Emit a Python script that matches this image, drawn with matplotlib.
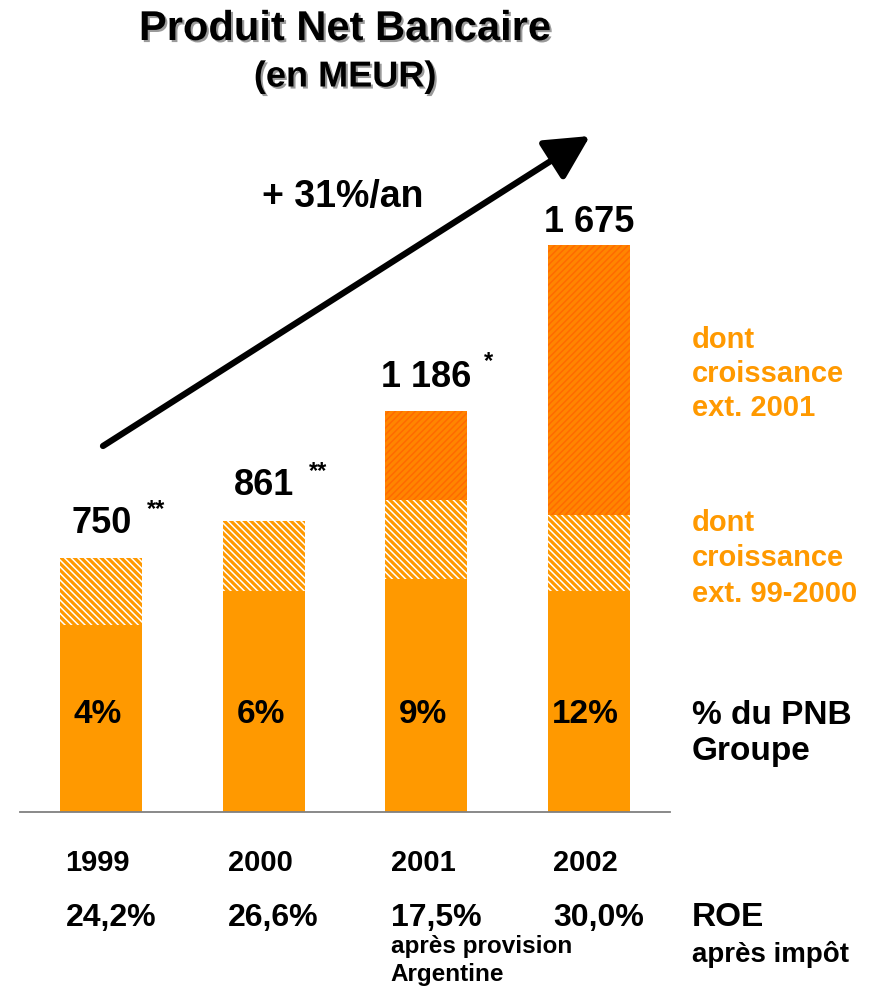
import matplotlib.pyplot as plt
import matplotlib.patheffects as pe
import matplotlib.transforms as mtransforms
from matplotlib.patches import FancyArrowPatch

plt.rcParams['font.family'] = ['Liberation Sans', 'DejaVu Sans']
plt.rcParams['font.weight'] = 'bold'
plt.rcParams['hatch.linewidth'] = 1.1

years = ['1999', '2000', '2001', '2002']
# PNB split: organic base, growth from 99-2000 acquisitions, growth from 2001 acquisitions
base = [552, 653, 688, 653]
ext_9900 = [198, 208, 233, 225]
ext_2001 = [0, 0, 265, 797]
totals = [750, 861, 1186, 1675]
total_labels = ['750', '861', '1 186', '1 675']
stars = ['**', '**', '*', '']
share_pnb = ['4%', '6%', '9%', '12%']
roe = ['24,2%', '26,6%', '17,5%', '30,0%']

ORANGE = '#FF9900'
DARK = '#FF6A00'

W, H = 874, 987
fig = plt.figure(figsize=(W / 100, H / 100), dpi=100)


def fx(x):
    return x / W


def fy(y):
    return 1 - y / H


# axes: x from px 20 to 670, baseline at px 813, 1675 -> 567 px
ymax = 2000
ax_h = ymax * 567 / 1675
ax = fig.add_axes([fx(20), fy(813), 650 / W, ax_h / H])
ax.set_xlim(-0.5, 3.5)
ax.set_ylim(0, ymax)
ax.axis('off')

xs = range(len(years))
bw = 0.504
ax.bar(xs, base, width=bw, color=ORANGE, linewidth=0)
ax.bar(xs, ext_9900, width=bw, bottom=base, color=ORANGE,
       edgecolor='white', hatch='\\\\\\\\\\', linewidth=0)
bottom2 = [b + e for b, e in zip(base, ext_9900)]
for i in xs:
    if ext_2001[i]:
        ax.bar(i, ext_2001[i], width=bw, bottom=bottom2[i], color='#FF8500',
               edgecolor=DARK, hatch='/////', linewidth=0)

ax.axhline(0, color='#808080', lw=1.3, clip_on=False)

# totals above bars
lab_off = [36, 36, 34, 24]
star_dx = [46, 45, 58, 0]
for i in xs:
    ax.annotate(total_labels[i], (i, totals[i]), xytext=(0, lab_off[i]),
                textcoords='offset pixels', ha='center', va='center',
                fontsize=26, fontweight='bold')
    if stars[i]:
        ax.annotate(stars[i], (i, totals[i]), xytext=(star_dx[i], 50),
                    textcoords='offset pixels', ha='left', va='center',
                    fontsize=17, fontweight='bold')

# share of group PNB inside bars
for i in xs:
    ax.text(i - 0.02, 290, share_pnb[i], ha='center', va='center',
            fontsize=24, fontweight='bold')

# years and ROE below axis
tr = mtransforms.blended_transform_factory(ax.transData, fig.transFigure)
for i in xs:
    ax.text(i - 0.22, fy(863), years[i], transform=tr, ha='left', va='center',
            fontsize=21, fontweight='bold')
    ax.text(i - 0.22, fy(918), roe[i], transform=tr, ha='left', va='center',
            fontsize=23, fontweight='bold')
ax.text(2 - 0.22, fy(947), 'après provision', transform=tr, ha='left',
        va='center', fontsize=17.5, fontweight='bold')
ax.text(2 - 0.22, fy(975), 'Argentine', transform=tr, ha='left',
        va='center', fontsize=17.5, fontweight='bold')

# right side annotations
for txt, y in [('dont', 340), ('croissance', 374), ('ext. 2001', 408),
               ('dont', 523), ('croissance', 558), ('ext. 99-2000', 594)]:
    fig.text(fx(692), fy(y), txt, color=ORANGE, ha='left', va='center',
             fontsize=21, fontweight='bold')
fig.text(fx(692), fy(715), '% du PNB', ha='left', va='center',
         fontsize=24, fontweight='bold')
fig.text(fx(692), fy(752), 'Groupe', ha='left', va='center',
         fontsize=24, fontweight='bold')
fig.text(fx(692), fy(918), 'ROE', ha='left', va='center',
         fontsize=24, fontweight='bold')
fig.text(fx(692), fy(955), 'après impôt', ha='left', va='center',
         fontsize=20, fontweight='bold')

# title
shadow = [pe.withSimplePatchShadow(offset=(1.5, -1.5),
                                   shadow_rgbFace='#9a9a9a', alpha=1)]
fig.text(fx(345), fy(30), 'Produit Net Bancaire', ha='center', va='center',
         fontsize=30, fontweight='bold', path_effects=shadow)
fig.text(fx(345), fy(78), '(en MEUR)', ha='center', va='center',
         fontsize=26, fontweight='bold', path_effects=shadow)

# growth arrow
fig.text(fx(262), fy(197), '+ 31%/an', ha='left', va='center',
         fontsize=27, fontweight='bold')
arrow = FancyArrowPatch((fx(103), fy(447)), (fx(590), fy(137)),
                        transform=fig.transFigure,
                        arrowstyle='-|>,head_length=1.35,head_width=0.7',
                        mutation_scale=20, lw=4.5, color='black',
                        shrinkA=0, shrinkB=0)
fig.add_artist(arrow)

fig.savefig('out.png', dpi=100)
